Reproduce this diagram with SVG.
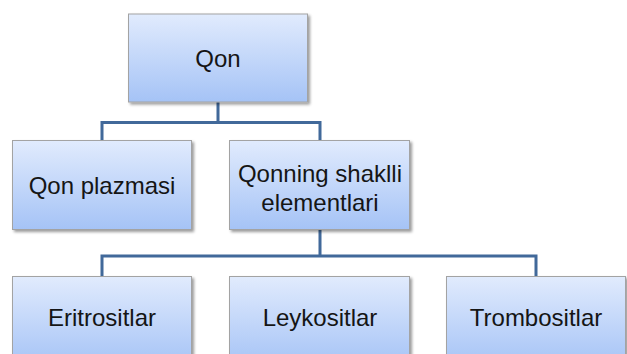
<svg xmlns="http://www.w3.org/2000/svg" width="627" height="354" viewBox="0 0 627 354">
<defs>
<linearGradient id="g" x1="0" y1="0" x2="0" y2="1">
<stop offset="0" stop-color="#e1ebfd"/>
<stop offset="1" stop-color="#a5c3f6"/>
</linearGradient>
<filter id="sh" x="-10%" y="-10%" width="130%" height="130%">
<feGaussianBlur in="SourceAlpha" stdDeviation="1.5"/>
<feOffset dx="1.5" dy="2" result="b"/>
<feComponentTransfer><feFuncA type="linear" slope="0.4"/></feComponentTransfer>
<feMerge><feMergeNode/><feMergeNode in="SourceGraphic"/></feMerge>
</filter>
</defs>
<style>
.box{fill:url(#g);stroke:#a3a3a3;stroke-width:1;filter:url(#sh)}
.t{font-family:"Liberation Sans",Arial,sans-serif;font-size:24px;fill:#151515;text-anchor:middle}
.c{fill:none;stroke:#41699a;stroke-width:3}
</style>
<rect width="627" height="354" fill="#fff"/>
<g id="connectors">
<path class="c" d="M218 102V122.5M102 140V122.5H320V140"/>
<path class="c" d="M320 230V256M102 276V256H536V276"/>
</g>
<g id="qon"><rect class="box" x="128.5" y="14" width="179" height="88"/><text class="t" x="218" y="67">Qon</text></g>
<g id="plazma"><rect class="box" x="12.5" y="140.5" width="179" height="89"/><text class="t" x="102" y="194">Qon plazmasi</text></g>
<g id="shaklli"><rect class="box" x="229.5" y="140.5" width="180" height="89"/><text class="t" x="320" y="181.5">Qonning shaklli</text><text class="t" x="320" y="211">elementlari</text></g>
<g id="eritro"><rect class="box" x="12.5" y="276.5" width="179" height="90"/><text class="t" x="102" y="326">Eritrositlar</text></g>
<g id="leyko"><rect class="box" x="229.5" y="276.5" width="180" height="90"/><text class="t" x="320" y="326">Leykositlar</text></g>
<g id="trombo"><rect class="box" x="446.5" y="276.5" width="179" height="90"/><text class="t" x="536" y="326">Trombositlar</text></g>
</svg>
